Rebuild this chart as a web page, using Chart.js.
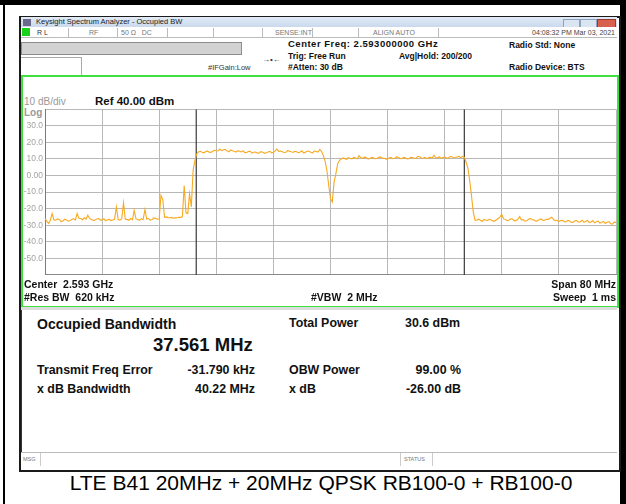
<!DOCTYPE html>
<html>
<head>
<meta charset="utf-8">
<script src="https://cdn.jsdelivr.net/npm/chart.js@4.4.0/dist/chart.umd.min.js"></script>
<style>
  body { margin: 0; width: 626px; height: 504px; background: #fff; position: relative; overflow: hidden;
         font-family: "Liberation Sans", Arial, sans-serif; }
  .abs { position: absolute; white-space: nowrap; }
  .hdr { font-size: 8.5px; font-weight: bold; color: #111; line-height: 10px; }
  .lbl { font-size: 10.5px; font-weight: bold; color: #111; line-height: 12px; }
  .res { font-size: 12.4px; font-weight: bold; color: #111; line-height: 14px; }
  .stat { font-size: 7px; color: #777; line-height: 9px; }
</style>
</head>
<body>
<!-- outer frame -->
<div class="abs" style="left:0;top:0;width:626px;height:5px;background:#000"></div>
<div class="abs" style="left:3px;top:0;width:2px;height:504px;background:#000"></div>
<div class="abs" style="left:620px;top:0;width:6px;height:504px;background:#000"></div>

<!-- analyzer window -->
<div class="abs" style="left:19px;top:16px;width:598px;height:452px;border:2px solid #1a1a1a;background:#fff"></div>
<div class="abs" style="left:21px;top:17px;width:596px;height:10px;background:linear-gradient(#e2ebf6,#c9d9ec)"></div>
<div class="abs" style="left:23px;top:19px;width:8px;height:7px;background:#6b6a8c"></div>
<div class="abs stat" style="left:36px;top:17px;color:#222;font-size:7.5px">Keysight Spectrum Analyzer - Occupied BW</div>
<div class="abs" style="left:563px;top:19px;width:15px;height:8px;background:#dbe5f1;border:1px solid #8ea3bf"></div>
<div class="abs" style="left:580px;top:19px;width:15px;height:8px;background:#dbe5f1;border:1px solid #8ea3bf"></div>
<div class="abs" style="left:597px;top:19px;width:17px;height:8px;background:#d8604e;border:1px solid #9a3a2c"></div>

<!-- status row -->
<div class="abs" style="left:21px;top:27px;width:596px;height:10px;border-bottom:1px solid #bbb;background:#fff"></div>
<div class="abs" style="left:22px;top:28px;width:8px;height:8px;background:#19d219"></div>
<div class="abs stat" style="left:37px;top:28px;color:#333">R L</div>
<div class="abs stat" style="left:89px;top:28px">RF</div>
<div class="abs stat" style="left:121px;top:28px">50 &Omega;&nbsp;&nbsp;&nbsp;DC</div>
<div class="abs stat" style="left:275px;top:28px">SENSE:INT</div>
<div class="abs stat" style="left:373px;top:28px">ALIGN AUTO</div>
<div class="abs stat" style="left:520px;top:28px;color:#444;width:95px;text-align:right">04:08:32 PM Mar 03, 2021</div>
<div class="abs" style="left:68px;top:28px;width:1px;height:9px;background:#bbb"></div>
<div class="abs" style="left:117px;top:28px;width:1px;height:9px;background:#bbb"></div>
<div class="abs" style="left:167px;top:28px;width:1px;height:9px;background:#bbb"></div>
<div class="abs" style="left:213px;top:28px;width:1px;height:9px;background:#bbb"></div>
<div class="abs" style="left:262px;top:28px;width:1px;height:9px;background:#bbb"></div>
<div class="abs" style="left:312px;top:28px;width:1px;height:9px;background:#bbb"></div>
<div class="abs" style="left:358px;top:28px;width:1px;height:9px;background:#bbb"></div>
<div class="abs" style="left:438px;top:28px;width:1px;height:9px;background:#bbb"></div>

<!-- measurement header -->
<div class="abs" style="left:21px;top:42px;width:219px;height:11px;background:#d2d2d2;border:1px solid #8c8c8c"></div>
<div class="abs" style="left:21px;top:57px;width:60px;height:17px;border-top:1px solid #aaa;border-right:1px solid #aaa"></div>
<div class="abs stat" style="left:208px;top:63px;font-size:7.5px;color:#333">#IFGain:Low</div>
<div class="abs" style="left:262px;top:55px;font-size:8px;color:#333">&rarr;&bull;&larr;</div>
<div class="abs hdr" style="left:288px;top:39px;font-size:9.5px;letter-spacing:0.5px">Center Freq: 2.593000000 GHz</div>
<div class="abs hdr" style="left:288px;top:51px">Trig: Free Run</div>
<div class="abs hdr" style="left:399px;top:51px">Avg|Hold: 200/200</div>
<div class="abs hdr" style="left:288px;top:62px">#Atten: 30 dB</div>
<div class="abs hdr" style="left:509px;top:40px">Radio Std: None</div>
<div class="abs hdr" style="left:509px;top:62px">Radio Device: BTS</div>

<!-- green trace window -->
<div class="abs" style="left:21px;top:75px;width:594px;height:229px;border:2px solid #3fe03f"></div>
<div class="abs" style="left:24px;top:96px;font-size:10px;color:#999;line-height:12px">10 dB/div</div>
<div class="abs lbl" style="left:95px;top:95px;font-size:11.5px">Ref 40.00 dBm</div>
<div class="abs" style="left:24px;top:107px;font-size:10px;color:#999;font-weight:bold;line-height:12px">Log</div>
<canvas id="trace" class="abs" width="595" height="182" style="left:22px;top:100px"></canvas>
<div class="abs lbl" style="left:24px;top:278px">Center&nbsp; 2.593 GHz</div>
<div class="abs lbl" style="left:24px;top:291px">#Res BW&nbsp; 620 kHz</div>
<div class="abs lbl" style="left:311px;top:291px">#VBW&nbsp; 2 MHz</div>
<div class="abs lbl" style="left:500px;top:278px;width:116px;text-align:right">Span 80 MHz</div>
<div class="abs lbl" style="left:500px;top:291px;width:116px;text-align:right">Sweep&nbsp; 1 ms</div>

<!-- results panel -->
<div class="abs" style="left:21px;top:307px;width:596px;height:3px;background:#dcdcdc"></div>
<div class="abs" style="left:21px;top:310px;width:1px;height:142px;background:#333"></div>
<div class="abs res" style="left:37px;top:316px;font-size:14px;line-height:16px">Occupied Bandwidth</div>
<div class="abs res" style="left:153px;top:334px;font-size:18.5px;line-height:22px">37.561 MHz</div>
<div class="abs res" style="left:289px;top:316px">Total Power</div>
<div class="abs res" style="left:405px;top:316px">30.6 dBm</div>
<div class="abs res" style="left:37px;top:363px">Transmit Freq Error</div>
<div class="abs res" style="left:135px;top:363px;width:120px;text-align:right">-31.790 kHz</div>
<div class="abs res" style="left:289px;top:363px">OBW Power</div>
<div class="abs res" style="left:341px;top:363px;width:120px;text-align:right">99.00 %</div>
<div class="abs res" style="left:37px;top:382px">x dB Bandwidth</div>
<div class="abs res" style="left:135px;top:382px;width:120px;text-align:right">40.22 MHz</div>
<div class="abs res" style="left:289px;top:382px">x dB</div>
<div class="abs res" style="left:341px;top:382px;width:120px;text-align:right">-26.00 dB</div>

<!-- message bar -->
<div class="abs" style="left:21px;top:452px;width:596px;height:14px;border-top:1px solid #bbb;background:#fff"></div>
<div class="abs" style="left:40px;top:453px;width:1px;height:13px;background:#ccc"></div>
<div class="abs" style="left:400px;top:453px;width:1px;height:13px;background:#ccc"></div>
<div class="abs" style="left:432px;top:453px;width:1px;height:13px;background:#ccc"></div>
<div class="abs stat" style="left:23px;top:455px;font-size:5.5px">MSG</div>
<div class="abs stat" style="left:404px;top:455px;font-size:5.5px">STATUS</div>

<div class="abs" style="left:21px;top:471px;width:600px;text-align:center;font-size:21px;line-height:24px;color:#000">LTE B41 20MHz + 20MHz QPSK RB100-0 + RB100-0</div>

<script>
// sweep: offset from center 2.593 GHz, MHz
var sweepStartMHz = -40;
var sweepStepMHz = 0.25;

// trace values in dBm, one per sweep step (-40 ... +40 MHz), 8 per row = 2 MHz
var traceDbm = [
  -26.0, -27.5, -29.0, -27.0, -23.0, -26.8, -27.0, -26.2,  // -40
  -26.5, -27.8, -27.5, -26.4, -26.8, -27.6, -27.2, -26.6,  // -38
  -26.0, -26.9, -23.0, -25.8, -26.0, -26.7, -25.5, -26.3,  // -36
  -24.0, -25.9, -26.5, -27.1, -27.0, -26.2, -26.0, -26.9,  // -34
  -26.8, -26.1, -27.3, -26.7, -26.5, -27.2, -26.8, -26.3,  // -32
  -19.0, -26.6, -27.0, -26.1, -16.5, -26.4, -26.5, -27.0,  // -30
  -26.0, -26.8, -21.0, -26.2, -26.5, -27.0, -26.0, -26.6,  // -28
  -20.5, -26.3, -26.0, -26.9, -26.5, -25.6, -25.8, -26.4,  // -26
  -26.3, -12.0, -14.5, -25.2, -25.0, -25.4, -25.5, -25.3,  // -24
  -25.8, -25.6, -25.5, -25.2, -25.3, -24.8, -6.0, -22.5,   // -22
  -23.0, -11.0, -19.0, 3.0, 9.0, 13.0, 14.2, 14.6,         // -20
  14.0, 13.7, 14.3, 14.8, 14.1, 13.9, 14.6, 15.2,          // -18
  14.8, 14.9, 16.0, 15.0, 15.5, 15.8, 14.9, 14.3,          // -16
  15.4, 14.9, 14.6, 14.1, 15.0, 14.7, 14.2, 15.0,          // -14
  13.8, 13.9, 14.5, 14.6, 13.5, 14.0, 14.2, 13.5,          // -12
  13.6, 14.4, 14.1, 13.4, 13.8, 14.2, 14.6, 13.6,          // -10
  14.0, 14.9, 16.0, 14.6, 14.8, 14.3, 13.9, 14.0,          // -8
  15.1, 14.7, 14.3, 13.9, 14.6, 14.4, 13.8, 14.2,          // -6
  14.9, 13.6, 14.1, 14.8, 14.5, 14.0, 13.7, 14.9,          // -4
  14.4, 14.2, 15.8, 14.5, 12.0, 8.5, 3.0, -6.0,            // -2
  -14.0, -16.0, -4.0, 1.0, 7.0, 9.0, 10.0, 10.6,           // 0
  10.2, 9.8, 10.8, 10.3, 10.0, 11.0, 10.6, 10.1,           // 2
  12.0, 10.7, 10.4, 11.1, 10.9, 10.0, 10.1, 10.9,          // 4
  10.7, 10.2, 10.3, 11.0, 11.2, 10.4, 10.5, 9.9,           // 6
  10.0, 10.7, 10.8, 10.2, 10.4, 11.2, 11.0, 10.3,          // 8
  10.2, 10.9, 10.7, 10.0, 10.1, 11.0, 10.9, 10.3,          // 10
  10.5, 11.6, 11.3, 10.4, 10.6, 10.9, 10.2, 10.8,          // 12
  11.0, 10.5, 12.2, 10.6, 10.8, 11.2, 10.4, 10.9,          // 14
  11.1, 10.5, 10.6, 11.4, 11.3, 10.7, 10.9, 11.2,          // 16
  11.5, 10.8, 11.6, 11.0, 8.0, 4.5, -3.0, -12.0,           // 18
  -22.0, -27.0, -27.0, -26.4, -27.0, -27.6, -26.5, -26.9,  // 20
  -27.2, -26.3, -26.8, -27.4, -27.5, -26.7, -26.0, -25.0,  // 22
  -23.5, -26.2, -26.5, -27.3, -27.0, -26.1, -26.3, -27.4,  // 24
  -27.1, -26.3, -24.8, -26.9, -26.6, -27.5, -27.3, -26.4,  // 26
  -25.9, -26.7, -26.8, -27.6, -27.4, -26.5, -26.2, -27.1,  // 28
  -27.0, -26.4, -26.5, -25.8, -25.2, -26.6, -27.3, -27.0,  // 30
  -27.8, -27.2, -27.0, -27.9, -28.0, -27.1, -27.4, -28.3,  // 32
  -28.2, -27.3, -27.2, -28.1, -27.9, -27.0, -28.3, -27.6,  // 34
  -27.1, -28.4, -28.0, -27.2, -28.6, -27.9, -27.5, -28.8,  // 36
  -28.4, -27.7, -29.0, -28.2, -27.8, -29.1, -29.3, -28.0,  // 38
  -28.5                                                    // 40
];

// occupied bandwidth edges (MHz offset)
var obwEdgesMHz = [-18.81, 18.75];

// display scale
var refLevel = 40;
var bottomLevel = -60;
var dbPerDiv = 10;
var spanHalfMHz = 40;
var mhzPerDiv = 8;

var tracePoints = traceDbm.map(function(v, i) {
  return { x: sweepStartMHz + i * sweepStepMHz, y: v };
});

var markerSets = obwEdgesMHz.map(function(f) {
  return {
    data: [{ x: f, y: refLevel }, { x: f, y: bottomLevel }],
    borderColor: '#3a3a3a',
    borderWidth: 1.2,
    pointRadius: 0
  };
});

new Chart(document.getElementById('trace'), {
  type: 'line',
  data: {
    datasets: [{
      data: tracePoints,
      borderColor: '#f8a91f',
      borderWidth: 1.1,
      pointRadius: 0,
      tension: 0
    }].concat(markerSets)
  },
  options: {
    responsive: false,
    animation: false,
    devicePixelRatio: 1,
    layout: { padding: { top: 9.25, right: 1, bottom: 3, left: 0 } },
    plugins: { legend: { display: false }, tooltip: { enabled: false } },
    scales: {
      x: {
        type: 'linear',
        min: -spanHalfMHz,
        max: spanHalfMHz,
        ticks: { display: false, stepSize: mhzPerDiv },
        grid: { color: '#b8b8b8', lineWidth: 1, drawTicks: false },
        border: { display: true, color: '#8a8a8a' }
      },
      y: {
        min: bottomLevel,
        max: refLevel,
        afterFit: function(scale) { scale.width = 23; },
        ticks: {
          stepSize: dbPerDiv,
          padding: 2,
          color: '#a3a3a3',
          font: { family: 'Liberation Sans', size: 8.5 },
          callback: function(v) {
            if (v === refLevel || v === bottomLevel) return '';
            return v === 0 ? '0.00' : v.toFixed(1);
          }
        },
        grid: { color: '#b8b8b8', lineWidth: 1, drawTicks: false },
        border: { display: true, color: '#7a7a7a' }
      }
    }
  }
});
</script>
</body>
</html>
